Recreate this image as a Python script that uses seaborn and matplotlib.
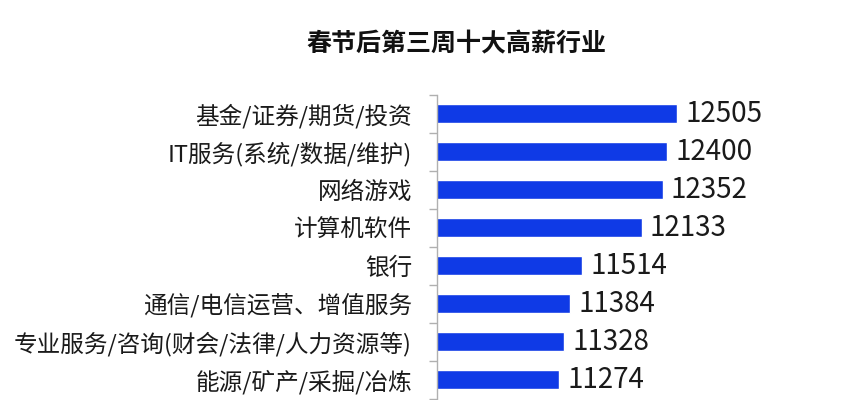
import matplotlib
matplotlib.use("Agg")
import matplotlib.pyplot as plt
import seaborn as sns
import pandas as pd
from matplotlib.ticker import FixedLocator

# Top industries by salary (the picture shows the first eight)
industries = [
    "基金/证券/期货/投资",
    "IT服务(系统/数据/维护)",
    "网络游戏",
    "计算机软件",
    "银行",
    "通信/电信运营、增值服务",
    "专业服务/咨询(财会/法律/人力资源等)",
    "能源/矿产/采掘/冶炼",
]
salaries = [12505, 12400, 12352, 12133, 11514, 11384, 11328, 11274]

df = pd.DataFrame({"industry": industries, "salary": salaries})

sns.set_theme(style="white")
plt.rcParams["font.family"] = ["Noto Sans CJK SC", "DejaVu Sans"]

fig = plt.figure(figsize=(8.46, 4.0), dpi=100)
ax = fig.add_axes([0.5165, 0.0, 0.4534, 0.7625])

sns.barplot(data=df, x="salary", y="industry", orient="h", color="#0f3ae6",
            saturation=1, width=0.5, ax=ax)

ax.set_xlim(10000, 14000)
ax.set_ylim(7.53, -0.5)

for c in ax.containers:
    ax.bar_label(c, fmt="%d", padding=6, fontsize=20, color="#1a1a1a")

ax.set_xlabel("")
ax.set_ylabel("")
ax.set_xticks([])
for s in ["top", "right", "bottom"]:
    ax.spines[s].set_visible(False)
ax.spines["left"].set_color("#b0b0b0")
ax.spines["left"].set_linewidth(1.0)

ax.tick_params(axis="y", which="major", length=0, pad=18, labelsize=17,
               labelcolor="#1a1a1a")
ax.yaxis.set_minor_locator(FixedLocator([i - 0.5 for i in range(9)]))
ax.tick_params(axis="y", which="minor", left=True, length=6, width=1,
               color="#b0b0b0")

fig.text(0.539, 0.89, "春节后第三周十大高薪行业", ha="center", va="center",
         fontsize=18, fontweight="bold", color="#111111")

fig.savefig("out.png", dpi=100)
